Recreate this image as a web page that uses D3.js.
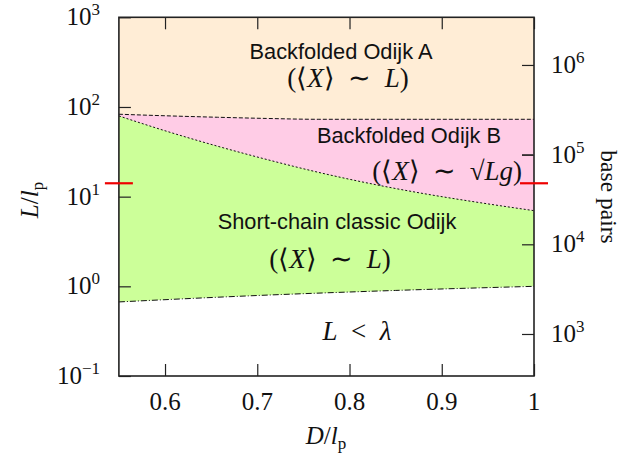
<!DOCTYPE html>
<html><head><meta charset="utf-8">
<script src="https://cdn.jsdelivr.net/npm/d3@7"></script>
<style>
body{margin:0;background:#fff;}
svg{display:block;}
.sans{font-family:"Liberation Sans",Arial,sans-serif;}
.serif{font-family:"Liberation Serif","Times New Roman",serif;}
</style></head>
<body>
<svg id="chart" width="624" height="459"></svg>
<script>
// ---- data ----
const xDomain = [0.55, 1.0];
const yDomain = [0.1, 1000];
const xTicks = [0.6, 0.7, 0.8, 0.9, 1.0];
const xTickLabels = ["0.6", "0.7", "0.8", "0.9", "1"];
const yTicks = [0.1, 1, 10, 100, 1000];
const yTickExps = ["−1", "0", "1", "2", "3"];
const bpTicks = [1e3, 1e4, 1e5, 1e6];
const bpTickExps = ["3", "4", "5", "6"];
const bpPerLp = 3400;
// boundary A/B (dashed)
const dAB = [0.55, 0.60, 0.657, 0.71, 0.766, 0.85, 0.92, 1.0];
const lAB = [83, 79.8, 76.8, 74.5, 72.9, 72.9, 72.9, 72.9];
// boundary B/classic (dotted)
const dB = [0.55, 0.60, 0.657, 0.712, 0.766, 0.83, 0.883, 0.94, 1.0];
const lB = [79.4, 54.3, 36.5, 25.7, 18.7, 13.5, 10.7, 8.61, 6.98];
// boundary classic / L<lambda (dash-dot)
const dLam = [0.55, 0.7, 0.85, 1.0];
const lLam = [0.67, 0.79, 0.90, 1.0];
// red marker value
const markL = 14.1;

// ---- layout ----
const svg = d3.select("#chart");
const L = 118.9, R = 534, T = 17.3, B = 376;
const x = d3.scaleLinear(xDomain, [L, R]);
const y = d3.scaleLog(yDomain, [B, T]);
const yBp = d3.scaleLog([yDomain[0]*bpPerLp, yDomain[1]*bpPerLp], [B, T]);

const colA = "#ffedd6", colB = "#ffcce6", colC = "#ccff99";

const toPts = (ds, ls) => ds.map((d, i) => [d, ls[i]]);
const areaDown = d3.area().x(d => x(d[0])).y0(B).y1(d => y(d[1])).curve(d3.curveMonotoneX);
const lineGen = d3.line().x(d => x(d[0])).y(d => y(d[1])).curve(d3.curveMonotoneX);

svg.append("rect").attr("x", L).attr("y", T).attr("width", R - L).attr("height", B - T).attr("fill", colA);
svg.append("path").attr("d", areaDown(toPts(dAB, lAB))).attr("fill", colB);
svg.append("path").attr("d", areaDown(toPts(dB, lB))).attr("fill", colC);
svg.append("path").attr("d", areaDown(toPts(dLam, lLam))).attr("fill", "#fff");

svg.append("path").attr("d", lineGen(toPts(dAB, lAB))).attr("fill", "none").attr("stroke", "#111").attr("stroke-width", 1).attr("stroke-dasharray", "4,2");
svg.append("path").attr("d", lineGen(toPts(dB, lB))).attr("fill", "none").attr("stroke", "#111").attr("stroke-width", 1).attr("stroke-dasharray", "2,2");
svg.append("path").attr("d", lineGen(toPts(dLam, lLam))).attr("fill", "none").attr("stroke", "#111").attr("stroke-width", 1).attr("stroke-dasharray", "6,2,1,2");

// axes (ticks only)
function styleAxis(g) {
  g.select(".domain").remove();
  g.selectAll(".tick line").attr("stroke", "#222").attr("stroke-width", 1.2);
  g.selectAll(".tick text").remove();
}
svg.append("g").attr("transform", `translate(0,${B})`).call(d3.axisBottom(x).tickValues(xTicks).tickSize(-12)).call(styleAxis);
svg.append("g").attr("transform", `translate(0,${T})`).call(d3.axisTop(x).tickValues(xTicks).tickSize(-12)).call(styleAxis);
svg.append("g").attr("transform", `translate(${L},0)`).call(d3.axisLeft(y).tickValues(yTicks).tickSize(-12)).call(styleAxis);
svg.append("g").attr("transform", `translate(${R},0)`).call(d3.axisRight(yBp).tickValues(bpTicks).tickSize(-12)).call(styleAxis);

// frame
svg.append("rect").attr("x", L).attr("y", T).attr("width", R - L).attr("height", B - T)
  .attr("fill", "none").attr("stroke", "#222").attr("stroke-width", 1.6);

// tick labels
svg.append("g").selectAll("text").data(xTicks).join("text")
  .attr("class", "serif").attr("x", d => x(d)).attr("y", B + 34).attr("text-anchor", "middle")
  .attr("font-size", 25).attr("fill", "#111").text((d, i) => xTickLabels[i]);

const yl = svg.append("g").selectAll("text").data(yTicks).join("text")
  .attr("class", "serif").attr("x", 100).attr("y", d => y(d) + 8).attr("text-anchor", "end")
  .attr("font-size", 25).attr("fill", "#111");
yl.append("tspan").text("10");
yl.append("tspan").attr("dy", -10).attr("font-size", 17).text((d, i) => yTickExps[i]);

const bl = svg.append("g").selectAll("text").data(bpTicks).join("text")
  .attr("class", "serif").attr("x", 551).attr("y", d => yBp(d) + 8).attr("text-anchor", "start")
  .attr("font-size", 25).attr("fill", "#111");
bl.append("tspan").text("10");
bl.append("tspan").attr("dy", -10).attr("font-size", 17).text((d, i) => bpTickExps[i]);

// red markers
[L, R].forEach(px => {
  svg.append("line").attr("x1", px - 14).attr("x2", px + 14).attr("y1", y(markL)).attr("y2", y(markL))
    .attr("stroke", "#ee0000").attr("stroke-width", 2.2);
});

// axis titles
const yt = svg.append("text").attr("class", "serif").attr("transform", "translate(38,200) rotate(-90)")
  .attr("text-anchor", "middle").attr("font-size", 25).attr("fill", "#111");
yt.append("tspan").attr("font-style", "italic").text("L");
yt.append("tspan").text("/");
yt.append("tspan").attr("font-style", "italic").text("l");
yt.append("tspan").attr("dy", 5).attr("font-size", 17).text("p");

const xt = svg.append("text").attr("class", "serif").attr("x", 326).attr("y", 444)
  .attr("text-anchor", "middle").attr("font-size", 25).attr("fill", "#111");
xt.append("tspan").attr("font-style", "italic").text("D");
xt.append("tspan").text("/");
xt.append("tspan").attr("font-style", "italic").text("l");
xt.append("tspan").attr("dy", 5).attr("font-size", 17).text("p");

svg.append("text").attr("class", "serif").attr("transform", "translate(601,197) rotate(90)")
  .attr("text-anchor", "middle").attr("font-size", 23.5).attr("fill", "#111").text("base pairs");

// region labels
function sansLabel(t, cx, by) {
  svg.append("text").attr("class", "sans").attr("x", cx).attr("y", by).attr("text-anchor", "middle")
    .attr("font-size", 21.8).attr("fill", "#111").text(t);
}
sansLabel("Backfolded Odijk A", 341, 59);
sansLabel("Backfolded Odijk B", 409, 143);
sansLabel("Short-chain classic Odijk", 337, 229);

function mathXL(cx, by) {
  const t = svg.append("text").attr("class", "serif").attr("x", cx).attr("y", by).attr("text-anchor", "middle")
    .attr("font-size", 27).attr("fill", "#111").style("white-space", "pre");
  t.append("tspan").text("(⟨");
  t.append("tspan").attr("font-style", "italic").text("X");
  t.append("tspan").text("⟩  ∼  ");
  t.append("tspan").attr("font-style", "italic").text("L");
  t.append("tspan").text(")");
  return t;
}
mathXL(348, 87);
mathXL(330, 268);

const mb = svg.append("text").attr("class", "serif").attr("x", 522).attr("y", 180).attr("text-anchor", "end")
  .attr("font-size", 27).attr("fill", "#111").style("white-space", "pre");
mb.append("tspan").text("(⟨");
mb.append("tspan").attr("font-style", "italic").text("X");
mb.append("tspan").text("⟩  ∼  √");
mb.append("tspan").attr("font-style", "italic").text("Lg");
mb.append("tspan").text(")");
svg.append("line").attr("x1", 522).attr("x2", 533).attr("y1", 155).attr("y2", 155).attr("stroke", "#111").attr("stroke-width", 1);

const ml = svg.append("text").attr("class", "serif").attr("x", 357).attr("y", 340).attr("text-anchor", "middle")
  .attr("font-size", 27).attr("fill", "#111").style("white-space", "pre");
ml.append("tspan").attr("font-style", "italic").text("L");
ml.append("tspan").text("  <  ");
ml.append("tspan").attr("font-style", "italic").text("λ");
</script>
</body></html>
